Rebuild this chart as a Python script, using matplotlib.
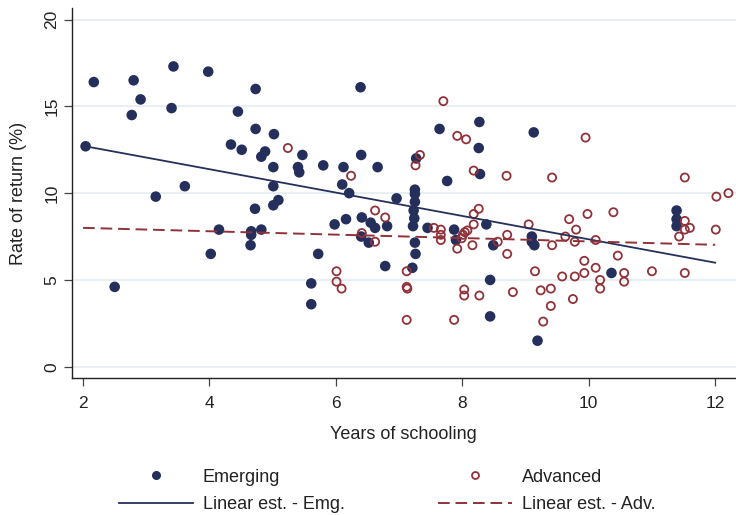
import numpy as np
import matplotlib
matplotlib.use("Agg")
import matplotlib.pyplot as plt
from matplotlib.lines import Line2D

plt.rcParams['font.family'] = ['Liberation Sans', 'DejaVu Sans']

# years of schooling / rate of return, emerging economies
emg_x = [2.04, 2.17, 2.50, 2.77, 2.80, 2.91, 3.15, 3.40, 3.43, 3.61,
         3.98, 4.02, 4.15, 4.34, 4.45, 4.51, 4.65, 4.66, 4.66, 4.72,
         4.73, 4.73, 4.82, 4.82, 4.88, 5.01, 5.01, 5.01, 5.02, 5.09,
         5.40, 5.42, 5.47, 5.61, 5.61, 5.72, 5.80, 5.98, 6.10, 6.12,
         6.16, 6.21, 6.39, 6.40, 6.40, 6.41, 6.52, 6.55, 6.62, 6.66,
         6.78, 6.81, 6.96, 7.21, 7.22, 7.24, 7.23, 7.25, 7.25, 7.25,
         7.25, 7.26, 7.27, 7.45, 7.64, 7.76, 7.87, 7.90, 8.26, 8.27,
         8.28, 8.38, 8.44, 8.44, 8.49, 9.10, 9.10, 9.14, 9.13, 9.19,
         10.36, 11.39, 11.39, 11.39]
emg_y = [12.7, 16.4, 4.6, 14.5, 16.5, 15.4, 9.8, 14.9, 17.3, 10.4,
         17.0, 6.5, 7.9, 12.8, 14.7, 12.5, 7.0, 7.6, 7.8, 9.1,
         13.7, 16.0, 7.9, 12.1, 12.4, 9.3, 10.4, 11.5, 13.4, 9.6,
         11.5, 11.2, 12.2, 4.8, 3.6, 6.5, 11.6, 8.2, 10.5, 11.5,
         8.5, 10.0, 16.1, 12.2, 7.5, 8.6, 7.15, 8.3, 8.0, 11.5,
         5.8, 8.1, 9.7, 5.7, 8.1, 8.55, 9.0, 9.5, 9.95, 10.2,
         7.15, 6.5, 12.0, 8.0, 13.7, 10.7, 7.9, 7.3, 12.6, 14.1,
         11.1, 8.2, 5.0, 2.9, 7.0, 7.5, 7.2, 7.0, 13.5, 1.5,
         5.4, 9.0, 8.5, 8.1]

# advanced economies
adv_x = [5.24, 6.01, 6.01, 6.09, 6.24, 6.41, 6.62, 6.62, 6.78, 7.12,
         7.12, 7.13, 7.12, 7.26, 7.33, 7.55, 7.66, 7.66, 7.66, 7.70,
         7.87, 7.92, 7.92, 7.99, 8.01, 8.04, 8.08, 8.03, 8.03, 8.06,
         8.16, 8.18, 8.18, 8.18, 8.26, 8.27, 8.56, 8.70, 8.71, 8.71,
         8.80, 9.05, 9.15, 9.24, 9.28, 9.40, 9.40, 9.42, 9.42, 9.58,
         9.63, 9.69, 9.75, 9.78, 9.78, 9.80, 9.93, 9.93, 9.95, 9.98,
         10.11, 10.11, 10.18, 10.18, 10.39, 10.46, 10.56, 10.56, 11.00, 11.43,
         11.52, 11.52, 11.52, 11.60, 11.52, 12.01, 12.02, 12.21]
adv_y = [12.6, 5.5, 4.9, 4.5, 11.0, 7.7, 9.0, 7.2, 8.6, 5.5,
         4.6, 4.5, 2.7, 11.6, 12.2, 8.0, 7.9, 7.6, 7.3, 15.3,
         2.7, 13.3, 6.8, 7.4, 7.6, 7.75, 7.85, 4.45, 4.1, 13.1,
         7.0, 8.2, 8.8, 11.3, 9.1, 4.1, 7.2, 11.0, 7.6, 6.5,
         4.3, 8.2, 5.5, 4.4, 2.6, 4.5, 3.5, 7.0, 10.9, 5.2,
         7.5, 8.5, 3.9, 7.2, 5.2, 7.9, 6.1, 5.4, 13.2, 8.8,
         7.3, 5.7, 5.0, 4.5, 8.9, 6.4, 5.4, 4.9, 5.5, 7.5,
         10.9, 8.4, 7.9, 8.0, 5.4, 7.9, 9.8, 10.0]

# linear fits: intercept, slope
fit_emg = [14.07, -0.673]
fit_adv = [8.195, -0.0976]
fit_range = [2.0, 12.0]

navy = '#252f5c'
maroon = '#913239'
txt = '#222222'

fig = plt.figure(figsize=(7.36, 5.15), dpi=100)
ax = fig.add_axes([0.0974, 0.266, 0.9026, 0.7186])

ax.scatter(emg_x, emg_y, s=58, color=navy, edgecolors='none', zorder=3)
ax.scatter(adv_x, adv_y, s=34, facecolors='none', edgecolors=maroon,
           linewidths=1.3, zorder=3)

xx = np.linspace(fit_range[0], fit_range[1], 50)
ax.plot(xx, fit_emg[0] + fit_emg[1] * xx, color=navy, lw=1.3, zorder=4)
ax.plot(xx, fit_adv[0] + fit_adv[1] * xx, color=maroon, lw=1.4,
        dashes=(6, 3), zorder=4)

ax.set_xlim(1.82, 12.33)
ax.set_ylim(-0.65, 20.67)
ax.set_xticks([2, 4, 6, 8, 10, 12])
ax.set_yticks([0, 5, 10, 15, 20])

ax.grid(axis='y', color='#e8eff2', lw=1.5)
ax.set_axisbelow(True)
for s in ['top', 'right']:
    ax.spines[s].set_visible(False)
for s in ['left', 'bottom']:
    ax.spines[s].set_color(txt)
    ax.spines[s].set_linewidth(1.0)

ax.tick_params(axis='both', length=6, width=0.9, color='#444444',
               labelsize=12.5, labelcolor=txt)
ax.tick_params(axis='x', pad=7)
ax.tick_params(axis='y', pad=3, labelrotation=90)
for lab in ax.get_yticklabels():
    lab.set_verticalalignment('center')

ax.set_xlabel('Years of schooling', fontsize=13, color=txt)
ax.set_ylabel('Rate of return (%)', fontsize=13, color=txt)
ax.xaxis.set_label_coords(0.5, -0.13)
ax.yaxis.set_label_coords(-0.068, 0.5)

handles = [
    Line2D([], [], ls='none', marker='o', ms=6.5, color=navy, mec='none'),
    Line2D([], [], color=navy, lw=1.3),
    Line2D([], [], ls='none', marker='o', ms=5, mfc='none', mec=maroon, mew=1.3),
    Line2D([], [], color=maroon, lw=1.4, dashes=(6, 3)),
]
labels = ['Emerging', 'Linear est. - Emg.', 'Advanced', 'Linear est. - Adv.']
fig.legend(handles, labels, ncol=2, loc='center',
           bbox_to_anchor=(387 / 736, 1 - 491 / 515), frameon=False,
           fontsize=13, handlelength=4.1, handletextpad=0.55,
           columnspacing=5.15, labelspacing=0.6, labelcolor=txt)

fig.savefig('out.png', dpi=100)
